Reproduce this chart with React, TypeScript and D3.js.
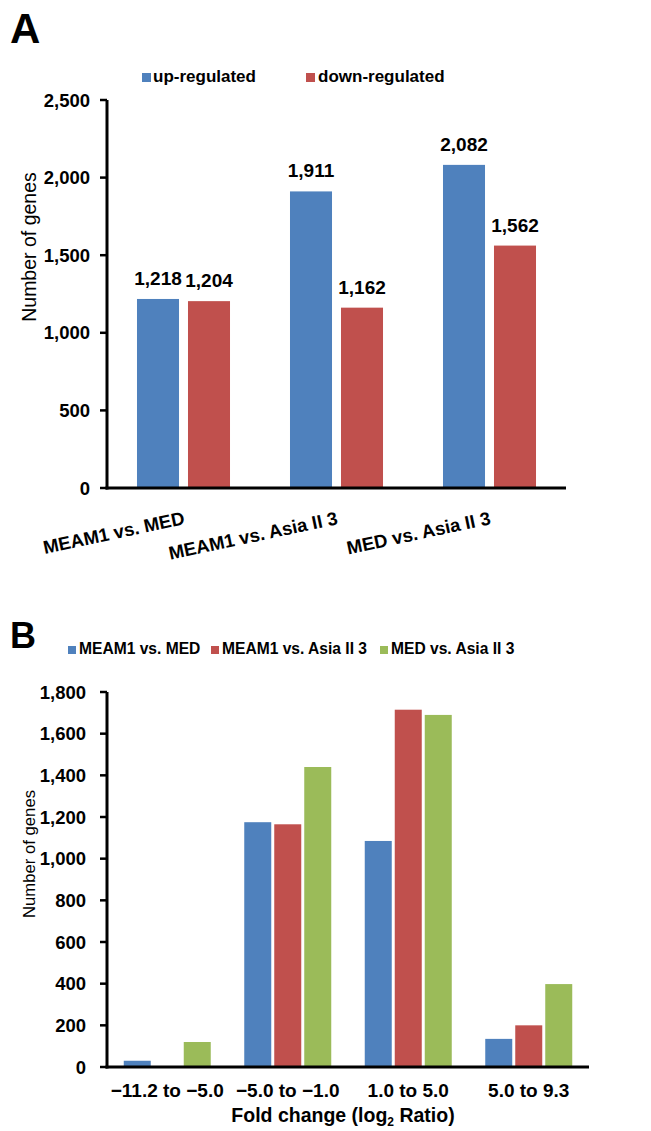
import React from "react";
import * as d3 from "d3";

const aCategories = ["MEAM1 vs. MED", "MEAM1 vs. Asia II 3", "MED vs. Asia II 3"];
const aSeries = ["up-regulated", "down-regulated"];
const aUp = [1218, 1911, 2082];
const aDown = [1204, 1162, 1562];
const aTicks = [0, 500, 1000, 1500, 2000, 2500];

const bCategories = ["\u221211.2 to \u22125.0", "\u22125.0 to \u22121.0", "1.0 to 5.0", "5.0 to 9.3"];
const bSeries = ["MEAM1 vs. MED", "MEAM1 vs. Asia II 3", "MED vs. Asia II 3"];
const bMeamMed = [30, 1175, 1085, 135];
const bMeamAsia = [0, 1165, 1715, 200];
const bMedAsia = [120, 1440, 1690, 398];
const bTicks = [0, 200, 400, 600, 800, 1000, 1200, 1400, 1600, 1800];

const BLUE = "#4F81BD";
const RED = "#C0504D";
const GREEN = "#9BBB59";
const FONT = "Liberation Sans, Arial, sans-serif";
const fmt = d3.format(",");

export default function App() {
  // Panel A scales
  const ax0 = d3.scaleBand<string>().domain(aCategories).range([107, 566]).paddingInner(0.392).paddingOuter(0.196);
  const ax1 = d3.scaleBand<string>().domain(aSeries).range([0, ax0.bandwidth()]).paddingInner(0.176);
  const ay = d3.scaleLinear().domain([0, 2500]).range([488, 100]);
  const aData = [aUp, aDown];
  const aColors = [BLUE, RED];

  // Panel B scales
  const bx0 = d3.scaleBand<string>().domain(bCategories).range([107, 589]).paddingInner(0.278).paddingOuter(0.139);
  const bx1 = d3.scaleBand<string>().domain(bSeries).range([0, bx0.bandwidth()]).paddingInner(0.1);
  const by = d3.scaleLinear().domain([0, 1800]).range([1067, 692]);
  const bData = [bMeamMed, bMeamAsia, bMedAsia];
  const bColors = [BLUE, RED, GREEN];

  return (
    <svg width={651} height={1131} style={{ position: "absolute", left: 0, top: 0, background: "#fff" }} fontFamily={FONT}>
      <rect x={0} y={0} width={651} height={1131} fill="#fff" />
      {/* Panel A */}
      <text x={10} y={43} fontSize={42} fontWeight="bold">A</text>
      {/* legend A */}
      <rect x={142} y={73} width={9} height={9} fill={BLUE} />
      <text x={153} y={82} fontSize={17} fontWeight="bold">{aSeries[0]}</text>
      <rect x={306} y={73} width={9} height={9} fill={RED} />
      <text x={318} y={82} fontSize={17} fontWeight="bold">{aSeries[1]}</text>
      {/* bars A */}
      {aSeries.map((s, si) =>
        aCategories.map((c, ci) => {
          const v = aData[si][ci];
          const x = (ax0(c) as number) + (ax1(s) as number);
          return (
            <g key={s + c}>
              <rect x={x} y={ay(v)} width={ax1.bandwidth()} height={ay(0) - ay(v)} fill={aColors[si]} />
              <text x={x + ax1.bandwidth() / 2} y={ay(v) - 14} fontSize={19} fontWeight="bold" textAnchor="middle">{fmt(v)}</text>
            </g>
          );
        })
      )}
      {/* axes A */}
      <line x1={107} x2={107} y1={ay(2500)} y2={ay(0) + 1.5} stroke="#000" strokeWidth={3} />
      <line x1={105.5} x2={566} y1={ay(0)} y2={ay(0)} stroke="#000" strokeWidth={3} />
      {aTicks.map((t) => (
        <g key={t}>
          <line x1={100} x2={107} y1={ay(t)} y2={ay(t)} stroke="#000" strokeWidth={2.5} />
          <text x={90} y={ay(t)} dy="0.36em" fontSize={18.5} fontWeight="bold" textAnchor="end">{fmt(t)}</text>
        </g>
      ))}
      {aCategories.map((c) => {
        const cx = (ax0(c) as number) + ax0.bandwidth() / 2 + 2;
        return (
          <text key={c} x={cx} y={524} transform={`rotate(-12, ${cx}, 524)`} fontSize={18.5} fontWeight="bold" textAnchor="end">{c}</text>
        );
      })}
      <text x={0} y={0} transform={`translate(36, 247) rotate(-90)`} fontSize={19.5} textAnchor="middle">Number of genes</text>

      {/* Panel B */}
      <text x={10} y={648} fontSize={36} fontWeight="bold">B</text>
      {bSeries.map((s, i) => {
        const xs = [68, 211, 380][i];
        return (
          <g key={s}>
            <rect x={xs} y={646} width={8} height={8} fill={bColors[i]} />
            <text x={xs + 11} y={654} fontSize={15.6} fontWeight="bold">{s}</text>
          </g>
        );
      })}
      {bSeries.map((s, si) =>
        bCategories.map((c, ci) => {
          const v = bData[si][ci];
          if (v <= 0) return null;
          const x = (bx0(c) as number) + (bx1(s) as number);
          return <rect key={s + c} x={x} y={by(v)} width={bx1.bandwidth()} height={by(0) - by(v)} fill={bColors[si]} />;
        })
      )}
      <line x1={107} x2={107} y1={by(1800)} y2={by(0) + 1.5} stroke="#000" strokeWidth={3} />
      <line x1={105.5} x2={589} y1={by(0)} y2={by(0)} stroke="#000" strokeWidth={3} />
      {bTicks.map((t) => (
        <g key={t}>
          <line x1={100} x2={107} y1={by(t)} y2={by(t)} stroke="#000" strokeWidth={2.5} />
          <text x={86} y={by(t)} dy="0.36em" fontSize={18.5} fontWeight="bold" textAnchor="end">{fmt(t)}</text>
        </g>
      ))}
      {bCategories.map((c) => (
        <text key={c} x={(bx0(c) as number) + bx0.bandwidth() / 2} y={1097} fontSize={19} fontWeight="bold" textAnchor="middle">{c}</text>
      ))}
      <text x={343} y={1122} fontSize={19.5} fontWeight="bold" textAnchor="middle">
        Fold change (log
        <tspan fontSize={12} dy={4}>2</tspan>
        <tspan dy={-4}> Ratio)</tspan>
      </text>
      <text x={0} y={0} transform={`translate(35, 854) rotate(-90)`} fontSize={16.7} textAnchor="middle">Number of genes</text>
    </svg>
  );
}
